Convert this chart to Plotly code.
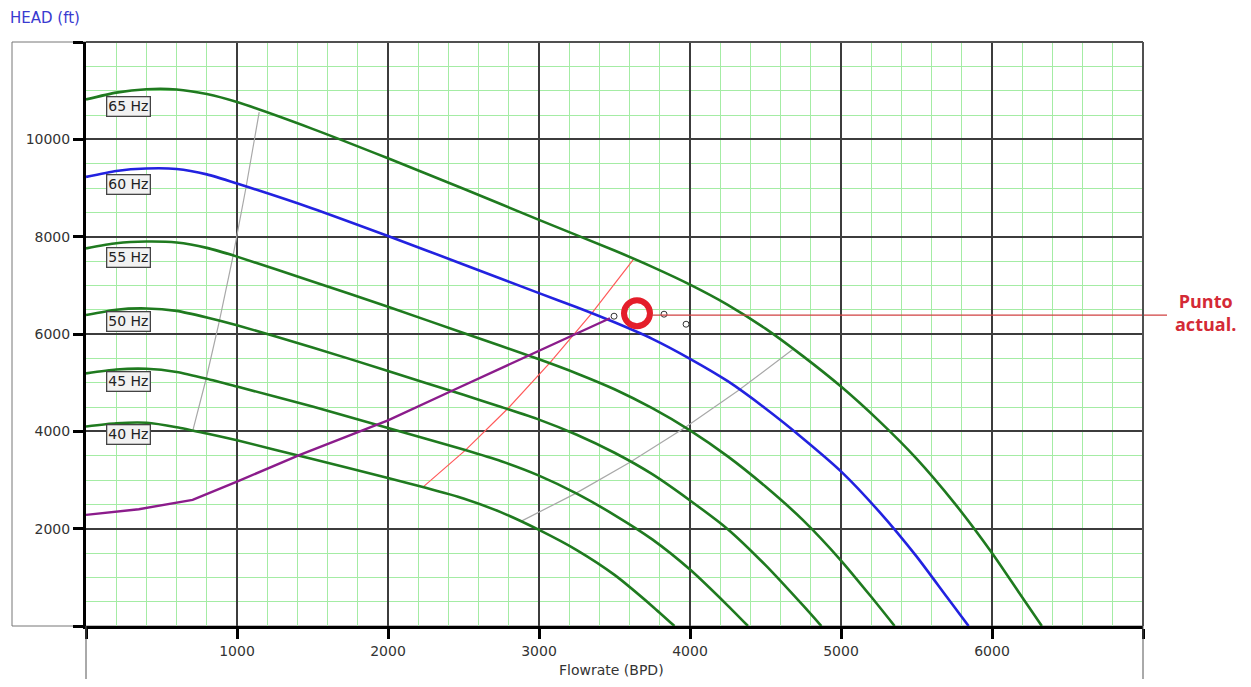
import plotly.graph_objects as go

# pump curves (flowrate BPD, head ft)
q65 = [0, 200, 400, 600, 800, 1000, 1500, 2000, 2500, 3000, 3500, 3750, 4000, 4250, 4500, 4750, 5000, 5250, 5500, 5750, 6000, 6175, 6330]
h65 = [10820, 10960, 11030, 11025, 10930, 10765, 10215, 9610, 8985, 8345, 7715, 7380, 7015, 6600, 6110, 5540, 4920, 4220, 3440, 2530, 1500, 704, 0]

q60 = [0, 200, 400, 600, 800, 1000, 1500, 2000, 2500, 3000, 3250, 3500, 3750, 4000, 4250, 4500, 4750, 5000, 5250, 5500, 5700, 5845]
h60 = [9228, 9350, 9400, 9390, 9280, 9092, 8580, 8014, 7430, 6840, 6550, 6240, 5900, 5490, 5030, 4470, 3850, 3178, 2360, 1430, 600, 0]

q55 = [0, 200, 400, 600, 800, 1000, 1500, 2000, 2500, 3000, 3250, 3500, 3750, 4000, 4250, 4500, 4750, 5000, 5200, 5355]
h55 = [7760, 7865, 7900, 7880, 7770, 7590, 7080, 6560, 6020, 5480, 5190, 4865, 4475, 4020, 3485, 2865, 2170, 1345, 600, 0]

q50 = [0, 200, 400, 600, 800, 1000, 1500, 2000, 2500, 2750, 3000, 3250, 3500, 3750, 4000, 4250, 4500, 4750, 4870]
h50 = [6390, 6500, 6525, 6475, 6340, 6180, 5725, 5240, 4750, 4500, 4240, 3930, 3560, 3120, 2580, 1990, 1250, 417, 0]

q45 = [0, 200, 400, 600, 800, 1000, 1500, 2000, 2500, 2750, 3000, 3250, 3500, 3750, 4000, 4250, 4384]
h45 = [5190, 5270, 5285, 5220, 5080, 4920, 4510, 4070, 3625, 3385, 3090, 2720, 2280, 1780, 1160, 420, 0]

q40 = [0, 200, 400, 600, 800, 1000, 1500, 2000, 2250, 2500, 2750, 3000, 3250, 3500, 3750, 3897]
h40 = [4100, 4165, 4175, 4085, 3955, 3815, 3430, 3040, 2840, 2620, 2335, 1975, 1560, 1050, 408, 0]

# system curve
q_sys = [0, 350, 706, 1000, 1412, 2000, 2424, 3000, 3470]
h_sys = [2284, 2400, 2590, 2966, 3511, 4227, 4834, 5659, 6324]

# operating range lines (through each frequency)
q_min = [706, 794, 882, 971, 1059, 1147]
h_min = [4000, 5060, 6250, 7560, 9000, 10560]
q_bep = [2235, 2515, 2794, 3073, 3353, 3632]
h_bep = [2863, 3620, 4470, 5410, 6440, 7560]
q_max = [2880, 3240, 3600, 3960, 4320, 4680]
h_max = [2150, 2720, 3360, 4065, 4840, 5680]

# operating points
q_pts = [3497, 3828, 3974]
h_pts = [6366, 6407, 6201]
q_actual = [3649]
h_actual = [6427]

hz_labels = ["65 Hz", "60 Hz", "55 Hz", "50 Hz", "45 Hz", "40 Hz"]
hz_label_y = [10677, 9076, 7577, 6263, 5031, 3942]

x_ticks = [0, 1000, 2000, 3000, 4000, 5000, 6000, 7000]
x_ticktext = ["", "1000", "2000", "3000", "4000", "5000", "6000", ""]
y_ticks = [0, 2000, 4000, 6000, 8000, 10000, 12000]
y_ticktext = ["", "2000", "4000", "6000", "8000", "10000", ""]

green = "#1f7a1f"
fig = go.Figure()

fig.add_trace(go.Scatter(x=q_min, y=h_min, mode="lines", line=dict(color="#a8a8a8", width=1.2)))
fig.add_trace(go.Scatter(x=q_max, y=h_max, mode="lines", line=dict(color="#a8a8a8", width=1.2)))
fig.add_trace(go.Scatter(x=q_bep, y=h_bep, mode="lines", line=dict(color="#ff5a5a", width=1.2)))

for q, h in [(q40, h40), (q45, h45), (q50, h50), (q55, h55), (q65, h65)]:
    fig.add_trace(go.Scatter(x=q, y=h, mode="lines", line=dict(color=green, width=2.6, shape="spline", smoothing=0.6)))
fig.add_trace(go.Scatter(x=q60, y=h60, mode="lines", line=dict(color="#2222e0", width=2.6, shape="spline", smoothing=0.6)))
fig.add_trace(go.Scatter(x=q_sys, y=h_sys, mode="lines", line=dict(color="#8b1c8b", width=2.4)))

fig.add_trace(go.Scatter(x=q_pts, y=h_pts, mode="markers",
                         marker=dict(symbol="circle-open", size=6, color="#333333", line=dict(width=1))))
fig.add_trace(go.Scatter(x=q_actual, y=h_actual, mode="markers",
                         marker=dict(symbol="circle-open", size=26, color="#e41e2a", line=dict(width=6))))

# pointer line to the note on the right
fig.add_shape(type="line", xref="paper", yref="y", x0=0.5355, x1=1.0227, y0=6386, y1=6386,
              line=dict(color="#d04040", width=1.2))

for txt, yy in zip(hz_labels, hz_label_y):
    fig.add_annotation(x=132, y=yy, text=txt, showarrow=False, xanchor="left", yanchor="middle",
                       font=dict(family="DejaVu Sans", size=14, color="#222222"),
                       bgcolor="#f2f2f2", bordercolor="#444444", borderwidth=1.3, borderpad=1)

fig.add_annotation(x=-0.0738, y=1.041, xref="paper", yref="paper", text="HEAD (ft)", showarrow=False,
                   xanchor="left", yanchor="middle", font=dict(family="DejaVu Sans", size=15, color="#3a3ad0"))
fig.add_annotation(x=0.4976, y=-0.0753, xref="paper", yref="paper", text="Flowrate (BPD)", showarrow=False,
                   xanchor="center", yanchor="middle", font=dict(family="DejaVu Sans", size=14, color="#333333"))
fig.add_annotation(x=1.0596, y=0.5368, xref="paper", yref="paper",
                   text="<b>Punto</b><br><b>actual.</b>", showarrow=False, align="center",
                   xanchor="center", yanchor="middle",
                   font=dict(family="Open Sans", size=18, color="#d42a36"))

# outer frame and plot border
fig.add_shape(type="rect", xref="paper", yref="paper", x0=-0.070, x1=1.0, y0=0, y1=1,
              line=dict(color="#777777", width=1), layer="below")
fig.add_shape(type="line", xref="paper", yref="paper", x0=0, x1=1, y0=1, y1=1,
              line=dict(color="#505050", width=2))
fig.add_shape(type="line", xref="paper", yref="paper", x0=1, x1=1, y0=0, y1=1,
              line=dict(color="#505050", width=2))
fig.add_shape(type="line", xref="paper", yref="paper", x0=0, x1=0, y0=0, y1=-0.12,
              line=dict(color="#555555", width=1))
fig.add_shape(type="line", xref="paper", yref="paper", x0=1, x1=1, y0=0, y1=-0.12,
              line=dict(color="#555555", width=1))

fig.update_xaxes(range=[0, 7000], tickvals=x_ticks, ticktext=x_ticktext,
                 showgrid=True, gridcolor="#3c3c3c", gridwidth=1.5, zeroline=False,
                 showline=True, linecolor="black", linewidth=3,
                 ticks="outside", ticklen=10, tickwidth=3, tickcolor="black",
                 tickfont=dict(family="DejaVu Sans", size=14, color="#333333"),
                 minor=dict(dtick=200, showgrid=True, gridcolor="#a4eca4", gridwidth=1, ticks=""))
fig.update_yaxes(range=[0, 12000], tickvals=y_ticks, ticktext=y_ticktext,
                 showgrid=True, gridcolor="#3c3c3c", gridwidth=1.5, zeroline=False,
                 showline=True, linecolor="black", linewidth=3,
                 ticks="outside", ticklen=10, tickwidth=3, tickcolor="black",
                 tickfont=dict(family="DejaVu Sans", size=14, color="#333333"),
                 minor=dict(dtick=500, showgrid=True, gridcolor="#a4eca4", gridwidth=1, ticks=""))

fig.update_layout(width=1235, height=671, autosize=False,
                  margin=dict(l=78, r=100, t=34, b=53),
                  plot_bgcolor="white", paper_bgcolor="white", showlegend=False)

fig.write_html("out.html")
